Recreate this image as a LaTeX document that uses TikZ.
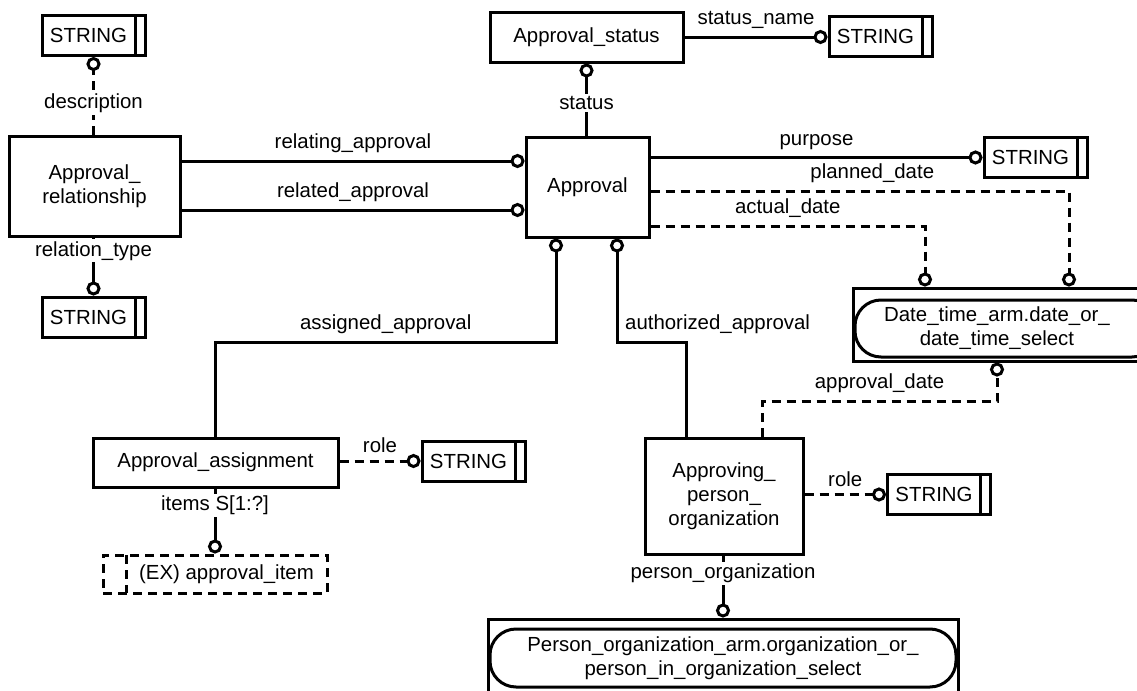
\documentclass[tikz,border=0pt]{standalone}
\usepackage{fontspec}
\setmainfont{Liberation Sans}
\usetikzlibrary{arrows.meta,calc}

\begin{document}
\begin{tikzpicture}[x=0.5pt,y=-0.5pt,line width=1.5pt,
    font=\fontsize{10.2}{12}\selectfont,
    entity/.style={draw,align=center,inner sep=2pt},
    stringbox/.style={draw,minimum width=51.5pt,minimum height=20pt,inner sep=2pt,
      execute at end node={\hspace*{5pt}},
      path picture={\draw ([xshift=-5pt]path picture bounding box.north east) -- ([xshift=-5pt]path picture bounding box.south east);}},
    exbox/.style={draw,dash pattern=on 4.5pt off 3pt,minimum width=112pt,minimum height=19pt,inner sep=2pt,
      execute at begin node={\hspace*{11.5pt}},
      path picture={\draw[dash pattern=on 4.5pt off 3pt] ([xshift=11.5pt]path picture bounding box.north west) -- ([xshift=11.5pt]path picture bounding box.south west);}},
    selouter/.style={draw,inner sep=0pt},
    selinner/.style={draw,rounded corners=13pt,align=center,inner sep=2pt},
    attr/.style={-{Circle[open,length=7pt,width=7pt]}},
    optattr/.style={attr,dash pattern=on 4.5pt off 3pt},
    lbl/.style={fill=white,inner sep=1pt}]
  \useasboundingbox (0,0) rectangle (1137,691);
  % entities
  \node[entity,minimum width=85.5pt,minimum height=50pt] (rel) at (94.5,186) {Approval\_\\relationship};
  \node[entity,minimum width=96.5pt,minimum height=25pt] (stat) at (586.5,37) {Approval\_status};
  \node[entity,minimum width=61.5pt,minimum height=50pt] (appr) at (587.5,187) {Approval};
  \node[entity,minimum width=122.5pt,minimum height=24.5pt] (asg) at (215.5,462.5) {Approval\_assignment};
  \node[entity,minimum width=79pt,minimum height=58pt] (apo) at (724,496) {Approving\_\\person\_\\organization};
  % simple types
  \node[stringbox] (s1) at (93.5,35.5) {STRING};
  \node[stringbox] (s2) at (880.5,36.5) {STRING};
  \node[stringbox] (s3) at (1035.5,157.5) {STRING};
  \node[stringbox] (s4) at (93.5,317) {STRING};
  \node[stringbox] (s5) at (473.5,461) {STRING};
  \node[stringbox] (s6) at (939,494.5) {STRING};
  \node[exbox] (ex) at (215,574) {(EX) approval\_item};
  % select types from other schemas
  \node[selouter,minimum width=153.5pt,minimum height=36.5pt] (dts) at (1006.5,324.5) {};
  \node[selinner,minimum width=151.5pt,minimum height=28.5pt,
    label={[align=center,xshift=-4.75pt]center:Date\_time\_arm.date\_or\_\\date\_time\_select}] (dtsin) at (1006.5,328.5) {};
  \node[selouter,minimum width=235pt,minimum height=42pt] (posel) at (723,661) {};
  \node[selinner,minimum width=233pt,minimum height=29pt] (poselin) at (723,658) {Person\_organization\_arm.organization\_or\_\\person\_in\_organization\_select};
  % attributes
  \draw[optattr] (rel.north -| s1.south) -- node[lbl,pos=0.4] {description} (s1.south);
  \draw[attr] (rel.south -| s4.north) -- node[lbl,pos=0.23] {relation\_type} (s4.north);
  \draw[attr] (rel.east |- 0,161) -- node[above] {relating\_approval} (appr.west |- 0,161);
  \draw[attr] (rel.east |- 0,210) -- node[above] {related\_approval} (appr.west |- 0,210);
  \draw[attr] (appr.north -| stat.south) -- node[lbl,pos=0.45] {status} (stat.south);
  \draw[attr] (stat.east) -- node[above] {status\_name} (stat.east -| s2.west);
  \draw[attr] (appr.east |- s3.west) -- node[above] {purpose} (s3.west);
  \draw[optattr] (appr.east |- 0,191) -- node[above,pos=0.53] {planned\_date} (1069,191) -- (dts.north -| 1069,0);
  \draw[optattr] (appr.east |- 0,226) -- node[above] {actual\_date} (925,226) -- (dts.north -| 925,0);
  \draw[attr] (asg.north) -- (asg.north |- 0,342) -- node[above] {assigned\_approval} (556,342) -- (appr.south -| 556,0);
  \draw[attr] (apo.north -| 686,0) -- (686,342) -- node[pos=1,above right] {authorized\_approval} (617,342) -- (appr.south -| 617,0);
  \draw[optattr] (apo.north -| 762,0) -- (762,401) -- node[above] {approval\_date} (997,401) -- (dts.south -| 997,0);
  \draw[optattr] (asg.east |- s5.west) -- node[above] {role} (s5.west);
  \draw[optattr] (apo.east |- s6.west) -- node[above] {role} (s6.west);
  \draw[attr] (asg.south -| ex.north) -- node[lbl,pos=0.26] {items S[1:?]} (ex.north);
  \draw[attr] (apo.south -| posel.north) -- node[lbl,pos=0.29] {person\_organization} (posel.north);
\end{tikzpicture}
\end{document}
